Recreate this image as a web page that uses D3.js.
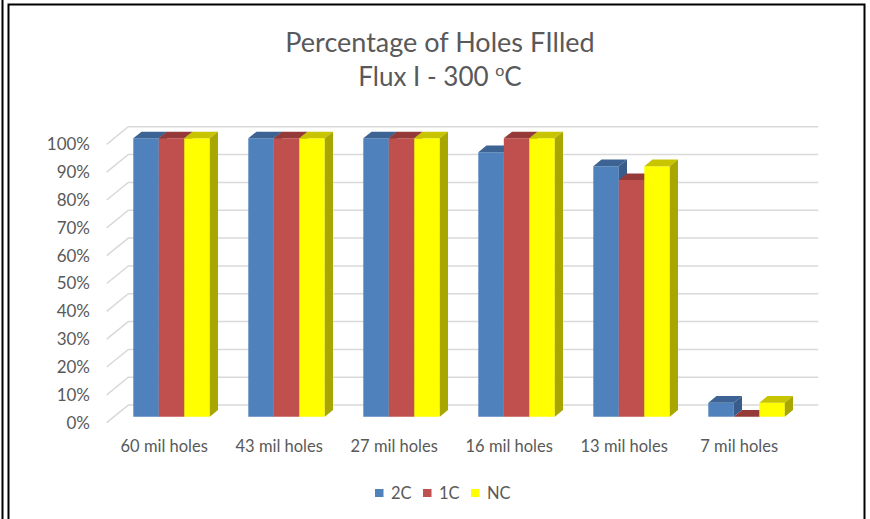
<!DOCTYPE html>
<html>

<head>
  <meta charset="utf-8" />
  <title>Holes filled</title>
  <style>
    body {
      margin: 0;
      background: #fff;
    }

    svg text {
      font-family: Lato, "Open Sans", sans-serif;
      fill: #595959;
    }
  </style>
  <script src="https://cdnjs.cloudflare.com/ajax/libs/d3/7.8.5/d3.min.js"></script>
</head>

<body>
  <div id="chartArea"></div>
  <script>
    var categories = ['60 mil holes', '43 mil holes', '27 mil holes', '16 mil holes', '13 mil holes', '7 mil holes'];
    var series = ['2C', '1C', 'NC'];
    var values2C = [1.00, 1.00, 1.00, 0.95, 0.90, 0.05];
    var values1C = [1.00, 1.00, 1.00, 1.00, 0.85, 0.00];
    var valuesNC = [1.00, 1.00, 1.00, 1.00, 0.90, 0.05];
    var yTicks = [0, 0.1, 0.2, 0.3, 0.4, 0.5, 0.6, 0.7, 0.8, 0.9, 1.0];

    var colors = {
      '2C': { front: '#4F81BD', top: '#3C6394', side: '#385D8A' },
      '1C': { front: '#C0504D', top: '#953A38', side: '#8C3836' },
      'NC': { front: '#FFFF00', top: '#C8C400', side: '#A8A600' }
    };
    var seriesValues = { '2C': values2C, '1C': values1C, 'NC': valuesNC };

    var w = 870, h = 519;
    // oblique depth of the floor (front edge -> back wall)
    var depthX = 21.6, depthY = 17.6;
    // bars sit between these depth fractions
    var zFront = 0.34, zBack = 0.72;

    var xScale = d3.scaleBand()
      .domain(categories)
      .range([106.7, 796.7])
      .paddingInner(0.335)
      .paddingOuter(0.1675);

    var sScale = d3.scaleBand()
      .domain(series)
      .range([0, xScale.bandwidth()]);

    var yScale = d3.scaleLinear()
      .domain([0, 1])
      .range([422.7, 144.3]);

    function proj(x, v, z) {
      return [x + z * depthX, yScale(v) - z * depthY];
    }

    var svg = d3.select('#chartArea').append('svg')
      .attr('width', w)
      .attr('height', h);

    // frame lines
    svg.append('line')
      .attr('x1', 2.5).attr('x2', 2.5).attr('y1', 0).attr('y2', h)
      .attr('stroke', '#000').attr('stroke-width', 2);
    svg.append('path')
      .attr('d', 'M8.5,' + (h + 2) + 'V4.5H864.5V' + (h + 2))
      .attr('fill', 'none')
      .attr('stroke', '#000').attr('stroke-width', 2);

    // title
    var title = svg.append('text')
      .attr('x', 440)
      .attr('text-anchor', 'middle')
      .style('font-size', '27px');
    title.append('tspan').attr('x', 440).attr('y', 52).text('Percentage of Holes FIlled');
    var t2 = title.append('tspan').attr('x', 440).attr('y', 86).style('font-size', '26px');
    t2.append('tspan').text('Flux I - 300 ');
    t2.append('tspan').attr('dy', -10).style('font-size', '16px').text('o');
    t2.append('tspan').attr('dy', 10).text('C');

    // grid: back wall lines + left side wall diagonals
    var xLeft = xScale.range()[0], xRight = xScale.range()[1];
    var grid = svg.append('g')
      .attr('stroke', '#D9D9D9')
      .attr('stroke-width', 1.5)
      .attr('fill', 'none');
    grid.selectAll('path')
      .data(yTicks)
      .enter()
      .append('path')
      .attr('d', function (d) {
        var a = proj(xLeft, d, 0), b = proj(xLeft, d, 1), c = proj(xRight, d, 1);
        return 'M' + a + 'L' + b + 'L' + c;
      });

    // y axis labels
    svg.append('g')
      .selectAll('text')
      .data(yTicks)
      .enter()
      .append('text')
      .attr('x', 90)
      .attr('y', d => yScale(d))
      .attr('dy', '0.35em')
      .attr('text-anchor', 'end')
      .style('font-size', '17px')
      .text(d3.format('.0%'));

    // category labels
    svg.append('g')
      .selectAll('text')
      .data(categories)
      .enter()
      .append('text')
      .attr('x', d => xScale(d) - xScale.step() * 0.1675 + xScale.step() / 2)
      .attr('y', 452)
      .attr('text-anchor', 'middle')
      .style('font-size', '16.5px')
      .text(d => d);

    // bars
    var bars = svg.append('g');
    categories.forEach(function (cat, ci) {
      series.forEach(function (s) {
        var v = seriesValues[s][ci];
        var x0 = xScale(cat) + sScale(s), x1 = x0 + sScale.bandwidth();
        var c = colors[s];
        var fbl = proj(x0, 0, zFront), fbr = proj(x1, 0, zFront);
        var ftl = proj(x0, v, zFront), ftr = proj(x1, v, zFront);
        var btl = proj(x0, v, zBack), btr = proj(x1, v, zBack), bbr = proj(x1, 0, zBack);
        var g = bars.append('g');
        g.append('path')
          .attr('d', 'M' + fbl + 'L' + fbr + 'L' + ftr + 'L' + ftl + 'Z')
          .attr('fill', c.front);
        g.append('path')
          .attr('d', 'M' + ftl + 'L' + ftr + 'L' + btr + 'L' + btl + 'Z')
          .attr('fill', c.top);
        g.append('path')
          .attr('d', 'M' + fbr + 'L' + bbr + 'L' + btr + 'L' + ftr + 'Z')
          .attr('fill', c.side);
      });
    });

    // legend
    var legend = svg.append('g').attr('transform', 'translate(375,489)');
    var legendX = [0, 48, 96];
    series.forEach(function (s, i) {
      legend.append('rect')
        .attr('x', legendX[i])
        .attr('y', 0)
        .attr('width', 8.5)
        .attr('height', 8)
        .attr('fill', colors[s].front);
      legend.append('text')
        .attr('x', legendX[i] + 16)
        .attr('y', 4)
        .attr('dy', '0.35em')
        .style('font-size', '16.5px')
        .text(s);
    });
  </script>
</body>

</html>
